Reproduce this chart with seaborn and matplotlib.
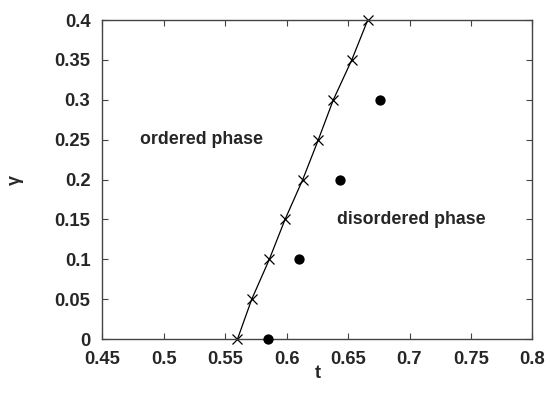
import matplotlib
matplotlib.use("Agg")
import matplotlib.pyplot as plt
import seaborn as sns
import pandas as pd

# Phase boundary (crosses) and disordered-phase samples (dots)
boundary_gamma = [0.0, 0.05, 0.1, 0.15, 0.2, 0.25, 0.3, 0.35, 0.4]
boundary_t = [0.560, 0.5716, 0.5859, 0.5987, 0.6131, 0.6258, 0.6380, 0.6530, 0.6660]
sample_gamma = [0.0, 0.1, 0.2, 0.3]
sample_t = [0.5851, 0.6103, 0.6434, 0.6760]

x_ticks = [0.45, 0.5, 0.55, 0.6, 0.65, 0.7, 0.75, 0.8]
x_tick_labels = ["0.45", "0.5", "0.55", "0.6", "0.65", "0.7", "0.75", "0.8"]
y_ticks = [0, 0.05, 0.1, 0.15, 0.2, 0.25, 0.3, 0.35, 0.4]
y_tick_labels = ["0", "0.05", "0.1", "0.15", "0.2", "0.25", "0.3", "0.35", "0.4"]

sns.set_style("ticks")
plt.rcParams["font.family"] = ["Liberation Sans", "DejaVu Sans"]

boundary = pd.DataFrame({"t": boundary_t, "gamma": boundary_gamma})
samples = pd.DataFrame({"t": sample_t, "gamma": sample_gamma})

fig = plt.figure(figsize=(5.5, 3.93), dpi=100)
ax = fig.add_axes([0.186, 0.137, 0.782, 0.812])

sns.lineplot(data=boundary, x="t", y="gamma", ax=ax, color="black", linewidth=0.9,
             marker="x", markersize=7, markeredgewidth=0.9, markeredgecolor="black",
             sort=False, estimator=None)
for ln in ax.lines:
    ln.set_clip_on(False)
sns.scatterplot(data=samples, x="t", y="gamma", ax=ax, color="black", s=55,
                edgecolor="black", linewidth=0, zorder=3, clip_on=False)

ax.set_xlim(0.45, 0.8)
ax.set_ylim(0, 0.4)
ax.set_xticks(x_ticks)
ax.set_xticklabels(x_tick_labels)
ax.set_yticks(y_ticks)
ax.set_yticklabels(y_tick_labels)
ax.tick_params(direction="in", length=4, width=0.8, top=True, right=True,
               labelsize=13.3, color="#444444")
ax.tick_params(axis="x", pad=8.5)
ax.tick_params(axis="y", pad=8.5)
for lab in ax.get_xticklabels() + ax.get_yticklabels():
    lab.set_fontweight("bold")
for sp in ax.spines.values():
    sp.set_linewidth(1.0)
    sp.set_color("#444444")

ax.set_xlabel("t", fontsize=13, fontweight="bold", labelpad=-2)
ax.set_ylabel("γ", fontsize=13, fontweight="bold", labelpad=22)

ax.text(0.4805, 0.25, "ordered phase", fontsize=12.75, fontweight="bold",
        va="center", ha="left")
ax.text(0.6408, 0.15, "disordered phase", fontsize=12.75, fontweight="bold",
        va="center", ha="left")

fig.savefig("out.png", dpi=100)
